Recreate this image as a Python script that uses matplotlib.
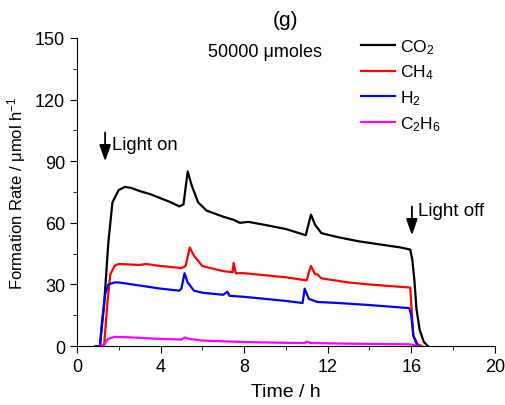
import matplotlib.pyplot as plt
from matplotlib.ticker import MultipleLocator

plt.rcParams['font.family'] = ['Liberation Sans', 'DejaVu Sans']
plt.rcParams['mathtext.fontset'] = 'custom'
plt.rcParams['mathtext.rm'] = 'Liberation Sans'
plt.rcParams['mathtext.it'] = 'Liberation Sans'

# values (time in h, rate in umol/h)
co2_t = [0.9, 1.1, 1.3, 1.5, 1.7, 2.0, 2.3, 2.6, 3.0, 3.5, 4.0, 4.5, 4.9, 5.1, 5.3, 5.5, 5.8,
         6.2, 7.0, 7.5, 7.8, 8.2, 9.0, 10.0, 10.95, 11.1, 11.2, 11.4, 11.7, 12.5, 13.5, 14.5,
         15.5, 15.95, 16.05, 16.15, 16.25, 16.4, 16.6, 16.8]
co2_y = [0, 0, 20, 50, 70, 76, 77.5, 77, 75.5, 74, 72, 70, 68, 69, 85, 78, 70,
         66, 63, 61.5, 60, 60.5, 59, 57, 54, 60, 64, 59, 55, 53, 51, 49.5,
         48, 47, 42, 32, 18, 8, 2, 0]

ch4_t = [0.9, 1.3, 1.45, 1.6, 1.8, 2.0, 3.0, 3.3, 4.0, 5.0, 5.2, 5.4, 5.6, 6.0, 7.0, 7.45,
         7.5, 7.6, 8.0, 10.0, 11.0, 11.1, 11.2, 11.4, 11.5, 11.7, 13.0, 14.0, 15.95, 16.0,
         16.1, 16.3, 16.5]
ch4_y = [0, 0, 20, 35, 39, 40, 39.5, 40, 39, 38, 39, 48, 44, 39, 36.5, 36,
         40.5, 35.5, 35.5, 33.5, 32, 36, 39, 35, 35, 33, 31, 30, 28.5, 20,
         5, 1, 0]

h2_t = [0.9, 1.1, 1.2, 1.35, 1.5, 1.8, 2.0, 3.0, 4.0, 4.9, 5.0, 5.15, 5.3, 5.6, 6.0, 7.0,
        7.2, 7.3, 8.0, 9.0, 10.0, 10.8, 10.9, 11.1, 11.5, 12.5, 14.0, 15.9, 16.0, 16.1, 16.3]
h2_y = [0, 0, 12, 25, 30, 31, 31, 29.5, 28, 27, 28, 35.5, 31, 27, 26, 25,
        26.5, 24.5, 24, 23, 22, 21, 28, 23, 21.5, 21, 20, 18.5, 15, 5, 0]

c2h6_t = [1.1, 1.3, 1.5, 1.8, 2.5, 4.0, 5.0, 5.15, 5.4, 6.0, 8.0, 10.0, 10.9, 11.0, 11.2,
          13.0, 15.9, 16.1, 16.3]
c2h6_y = [0, 1, 3.5, 4.5, 4.3, 3.5, 3.2, 4.2, 3.5, 2.7, 2.0, 1.6, 1.5, 2.2, 1.5,
          1.2, 0.9, 0.5, 0]

fig = plt.figure(figsize=(5.06, 4.06), dpi=100)
ax = fig.add_axes([0.152, 0.145, 0.826, 0.759])

ax.plot(co2_t, co2_y, color='black', lw=1.6, label='CO$_2$')
ax.plot(ch4_t, ch4_y, color='red', lw=1.6, label='CH$_4$')
ax.plot(h2_t, h2_y, color='blue', lw=1.6, label='H$_2$')
ax.plot(c2h6_t, c2h6_y, color='magenta', lw=1.6, label='C$_2$H$_6$')

ax.set_xlim(0, 20)
ax.set_ylim(0, 150)
ax.xaxis.set_major_locator(MultipleLocator(4))
ax.xaxis.set_minor_locator(MultipleLocator(2))
ax.yaxis.set_major_locator(MultipleLocator(30))
ax.yaxis.set_minor_locator(MultipleLocator(15))
ax.tick_params(which='both', direction='out', labelsize=13)
ax.tick_params(which='major', length=5)
ax.tick_params(which='minor', length=3)
ax.spines['top'].set_visible(False)
ax.spines['right'].set_visible(False)

ax.set_xlabel('Time / h', fontsize=14, labelpad=6)
ax.set_ylabel('Formation Rate / μmol h$^{-1}$', fontsize=12, labelpad=5)
ax.set_title('(g)', fontsize=15, pad=9)

ax.text(9.0, 143.5, '50000 μmoles', fontsize=13, ha='center', va='center')

arrow = dict(arrowstyle='-|>,head_length=0.7,head_width=0.25', color='black',
             lw=1.3, mutation_scale=14, shrinkA=0, shrinkB=0)
ax.annotate('', xy=(1.35, 90), xytext=(1.35, 104), arrowprops=arrow)
ax.text(1.7, 98, 'Light on', fontsize=13.3, va='center')
ax.annotate('', xy=(16.03, 54), xytext=(16.03, 68), arrowprops=arrow)
ax.text(16.3, 66, 'Light off', fontsize=13.5, va='center')

ax.legend(loc='upper left', bbox_to_anchor=(0.663, 1.026), frameon=False, fontsize=12.5,
          borderaxespad=0, handlelength=1.95, handletextpad=0.3, labelspacing=0.41)

fig.savefig('out.png', dpi=100)
